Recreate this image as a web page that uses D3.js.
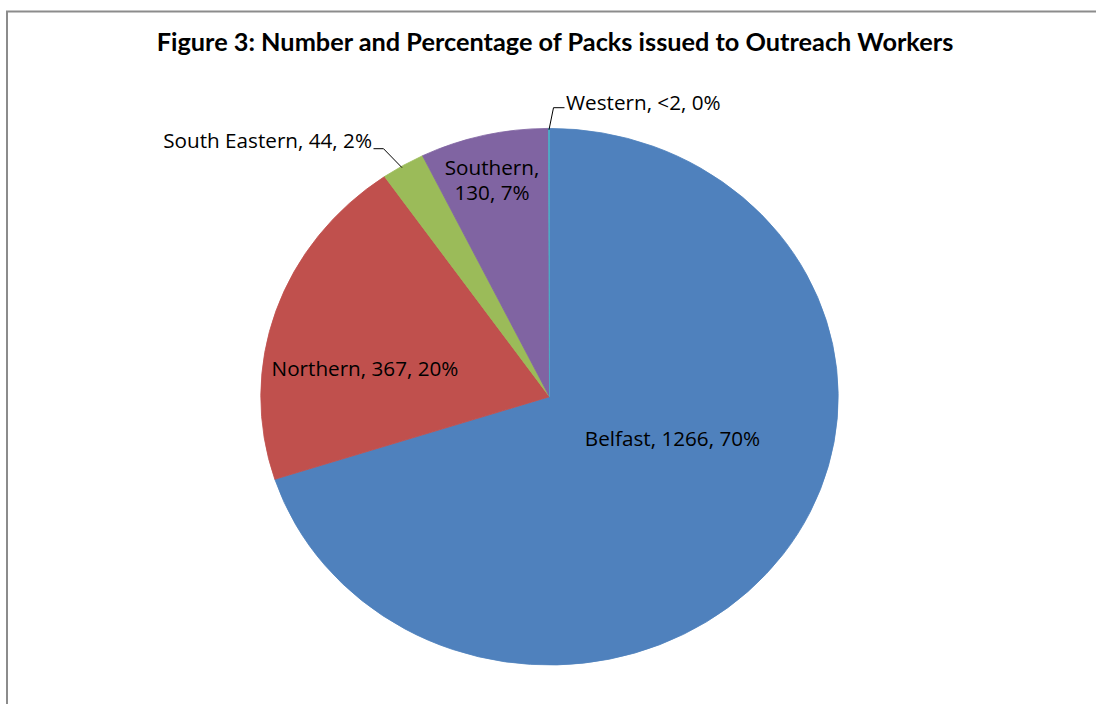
<!DOCTYPE html>
<html>
<head>
<meta charset="utf-8">
<script src="https://cdn.jsdelivr.net/npm/d3@7"></script>
<style>
  html, body { margin: 0; padding: 0; background: #fff; }
  svg { display: block; }
  text { fill: #000; }
</style>
</head>
<body>
<script>
// Packs issued to outreach workers, by trust area
const regions = ["Belfast", "Northern", "South Eastern", "Southern", "Western"];
const packs = [1266, 367, 44, 130, 1];
const countLabels = ["1266", "367", "44", "130", "<2"];
const percentLabels = ["70%", "20%", "2%", "7%", "0%"];
const colours = ["#4F81BD", "#C0504D", "#9BBB59", "#8064A2", "#4BACC6"];
const title = "Figure 3: Number and Percentage of Packs issued to Outreach Workers";

const W = 1096, H = 704;
const cx = 549.5, cy = 396.7;
const ry = 268.3, rx = 288.7;          // the plot area is stretched horizontally

const svg = d3.select("body").append("svg").attr("width", W).attr("height", H);

// chart frame (runs off the right and bottom of the view)
svg.append("path")
  .attr("d", `M7,${H + 10} L7,11.5 L${W + 10},11.5`)
  .attr("fill", "none").attr("stroke", "#8c8c8c").attr("stroke-width", 2);

// title
const t = svg.append("text")
  .attr("x", 555).attr("y", 51)
  .attr("text-anchor", "middle")
  .attr("font-family", "Lato, sans-serif")
  .attr("font-weight", "bold")
  .attr("font-size", 21)
  .text(title);
// size the title to its box width
const tw = t.node().getComputedTextLength();
t.attr("font-size", 21 * 797 / tw);

const pie = d3.pie().sort(null).value(d => d)(packs);
const arc = d3.arc().innerRadius(0).outerRadius(ry);

const g = svg.append("g").attr("transform", `translate(${cx},${cy}) scale(${rx / ry},1)`);
g.selectAll("path.slice")
  .data(pie)
  .join("path")
  .attr("class", "slice")
  .attr("d", arc)
  .attr("fill", (d, i) => colours[i])
  .attr("stroke", (d, i) => colours[i])
  .attr("stroke-width", 0.8);

// label placement relative to the pie centre
const labelLayout = [
  { dx: 123, dy: 49, anchor: "middle", split: false },
  { dx: -184.5, dy: -21, anchor: "middle", split: false },
  { dx: -177.5, dy: -249, anchor: "end", split: false },
  { dx: -57.5, dy: -222, anchor: "middle", split: true },
  { dx: 16.5, dy: -287, anchor: "start", split: false }
];

// data label font size, chosen so the Northern label spans 187px
const probe = svg.append("text").attr("font-family", "'Open Sans', sans-serif")
  .attr("font-size", 18).text(`${regions[1]}, ${countLabels[1]}, ${percentLabels[1]}`);
const fs = 18 * 187 / probe.node().getComputedTextLength();
probe.remove();

regions.forEach((name, i) => {
  const L = labelLayout[i];
  const lines = L.split
    ? [name + ",", `${countLabels[i]}, ${percentLabels[i]}`]
    : [`${name}, ${countLabels[i]}, ${percentLabels[i]}`];
  lines.forEach((line, k) => {
    svg.append("text")
      .attr("x", cx + L.dx).attr("y", cy + L.dy + k * 25.5)
      .attr("text-anchor", L.anchor)
      .attr("font-family", "'Open Sans', sans-serif")
      .attr("font-size", fs)
      .text(line);
  });
});

// leader lines for the two labels outside the pie, anchored on the slice edge
function edgePoint(d, frac) {
  const a = d.startAngle + (d.endAngle - d.startAngle) * frac;
  return [cx + Math.sin(a) * rx * 0.995, cy - Math.cos(a) * ry * 0.995];
}
const se = edgePoint(pie[2], 0.45);
const we = edgePoint(pie[4], 0.5);
const leaders = [
  [se, [cx - 166, cy - 248], [cx - 176, cy - 248]],
  [we, [cx + 4, cy - 289], [cx + 15, cy - 289]]
];
svg.selectAll("path.leader")
  .data(leaders)
  .join("path")
  .attr("class", "leader")
  .attr("d", d3.line())
  .attr("fill", "none")
  .attr("stroke", "#000")
  .attr("stroke-width", 1);
</script>
</body>
</html>
